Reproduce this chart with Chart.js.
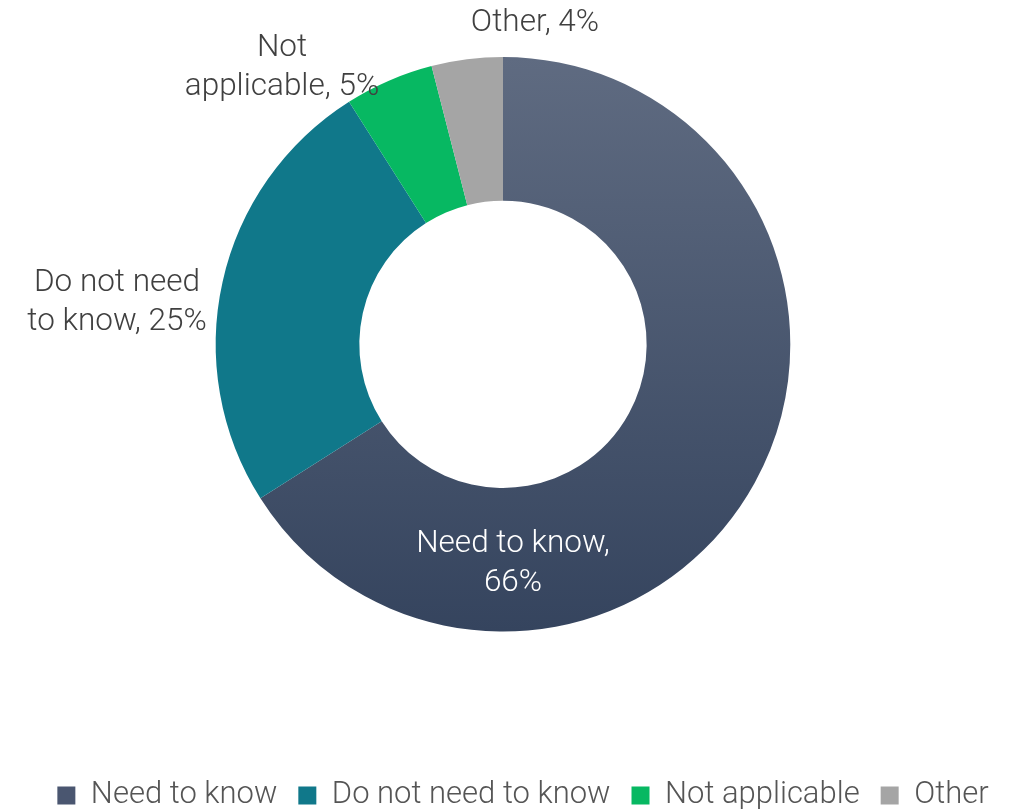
<!DOCTYPE html>
<html>
<head>
<meta charset="utf-8">
<script src="https://cdn.jsdelivr.net/npm/chart.js@4"></script>
<style>
  html, body { margin: 0; padding: 0; background: #fff; }
  #wrap { width: 1017px; height: 812px; }
</style>
</head>
<body>
<div id="wrap"><canvas id="chartKnow"></canvas></div>
<script>
const categories = ['Need to know', 'Do not need to know', 'Not applicable', 'Other'];
const shares = [66, 25, 5, 4];
const sliceColors = ['#4a5670', '#10788a', '#07b862', '#a5a5a5'];

// label text split into lines, and where each block sits relative to the hole centre
const labelLines = [
  ['Need to know,', '66%'],
  ['Do not need', 'to know, 25%'],
  ['Not', 'applicable, 5%'],
  ['Other, 4%']
];
const labelOffsets = [[10, 219], [-386, -42], [-221, -277], [32, -321]];

const FONT = 'Roboto';

function needGradient(ctx) {
  const area = ctx.chart.chartArea;
  if (!area) return sliceColors[0];
  const g = ctx.chart.ctx.createLinearGradient(0, area.top, 0, area.bottom);
  g.addColorStop(0, '#5f6b81');
  g.addColorStop(1, '#35445e');
  return g;
}

const sliceLabels = {
  id: 'sliceLabels',
  afterDatasetsDraw(chart) {
    const { ctx } = chart;
    const arc = chart.getDatasetMeta(0).data[0];
    const cx = arc.x, cy = arc.y;
    const lh = 39;
    ctx.save();
    ctx.font = '300 31.5px ' + FONT;
    ctx.textAlign = 'center';
    ctx.textBaseline = 'middle';
    labelLines.forEach((lines, i) => {
      const [dx, dy] = labelOffsets[i];
      ctx.fillStyle = i === 0 ? '#ffffff' : '#404040';
      const y0 = cy + dy - (lines.length - 1) * lh / 2;
      lines.forEach((t, j) => ctx.fillText(t, cx + dx, y0 + j * lh));
    });
    ctx.restore();
  }
};

// legend row sits a little right of the doughnut's centre line
const legendShift = {
  id: 'legendShift',
  afterLayout(chart) {
    if (!chart.legend) return;
    chart.legend.left += 20;
    chart.legend.right += 20;
  }
};

new Chart(document.getElementById('chartKnow'), {
  type: 'doughnut',
  data: {
    labels: categories,
    datasets: [{
      data: shares,
      backgroundColor: c => c.dataIndex === 0 ? needGradient(c) : sliceColors[c.dataIndex],
      borderWidth: 0
    }]
  },
  options: {
    responsive: true,
    maintainAspectRatio: false,
    animation: false,
    cutout: '50%',
    layout: { padding: { top: 57, left: 0, right: 11, bottom: -9 } },
    plugins: {
      tooltip: { enabled: false },
      legend: {
        position: 'bottom',
        title: { display: true, text: '', font: { size: 12 }, padding: { top: 0, bottom: 113 } },
        labels: {
          color: '#555555',
          font: { family: FONT, size: 31, weight: '300' },
          boxWidth: 18,
          boxHeight: 18,
          padding: 21,
          generateLabels: chart => categories.map((name, i) => ({
            text: name,
            fillStyle: sliceColors[i],
            strokeStyle: sliceColors[i],
            lineWidth: 0,
            fontColor: '#555555',
            index: i
          }))
        }
      }
    }
  },
  plugins: [sliceLabels, legendShift]
});
</script>
</body>
</html>
